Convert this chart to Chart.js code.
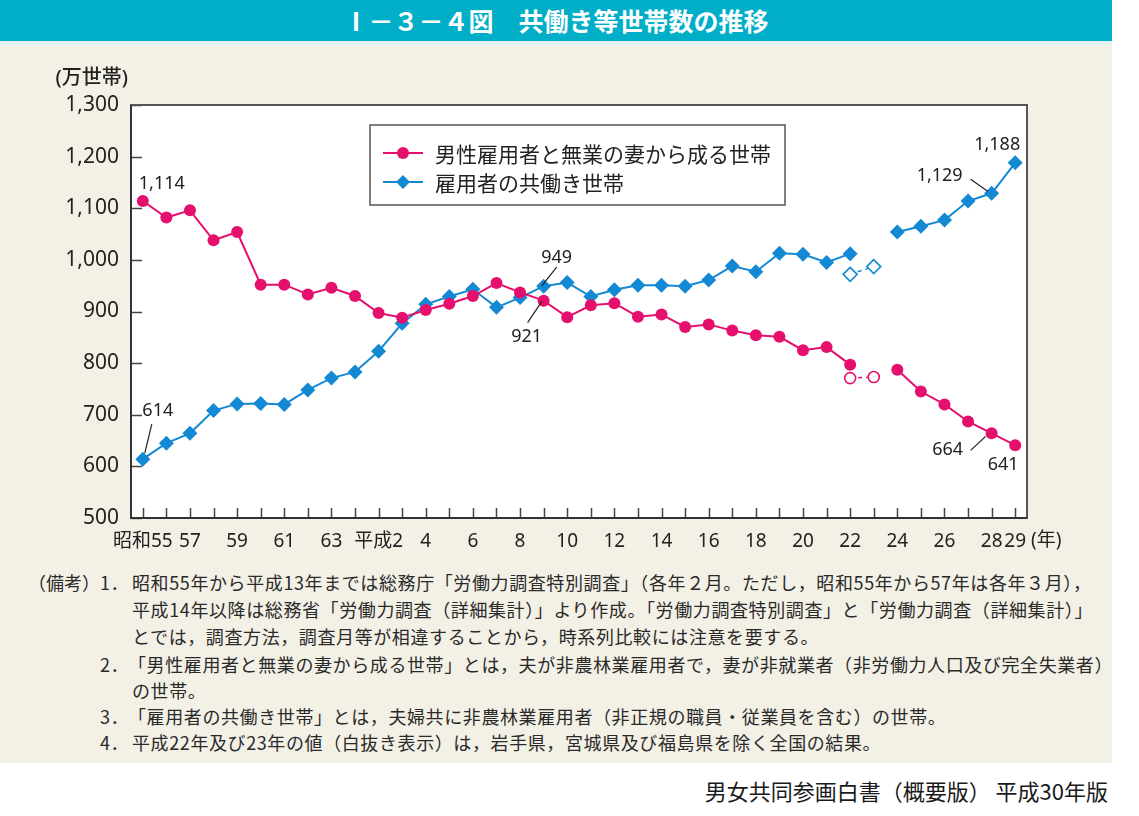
<!DOCTYPE html>
<html lang="ja">
<head>
<meta charset="utf-8">
<script src="https://cdn.jsdelivr.net/npm/chart.js@4.4.1/dist/chart.umd.min.js"></script>
<style>
  html,body{margin:0;padding:0;background:#fff;width:1139px;height:816px;overflow:hidden;font-family:"Noto Sans CJK JP","Noto Sans",sans-serif;}
  #title{position:absolute;left:0;top:0;width:1112px;height:41px;background:#00aec8;color:#fff;font-weight:bold;font-size:25px;line-height:41px;text-align:center;letter-spacing:0px;}
  #strip{position:absolute;left:0;top:41px;width:1112px;height:4px;background:#e3f4f7;}
  #panel{position:absolute;left:0;top:45px;width:1112px;height:718px;background:#f3f0e6;}
  #c{position:absolute;left:0;top:0;}
  .n{position:absolute;font-size:18px;letter-spacing:0.6px;color:#2a2a2a;white-space:nowrap;line-height:20px;}
  #foot{position:absolute;right:31px;top:777px;font-size:22px;color:#1a1a1a;white-space:nowrap;line-height:26px;}
</style>
</head>
<body>
<div id="title">Ⅰ－３－４図　共働き等世帯数の推移</div>
<div id="strip"></div>
<div id="panel"></div>
<div class="n" style="left:28px;top:572px;letter-spacing:0;">（備考）</div>
<div class="n" style="left:100px;top:572px;">1．</div>
<div class="n" style="left:132px;top:572px;">昭和55年から平成13年までは総務庁「労働力調査特別調査」（各年２月。ただし，昭和55年から57年は各年３月），</div>
<div class="n" style="left:132px;top:599px;">平成14年以降は総務省「労働力調査（詳細集計）」より作成。「労働力調査特別調査」と「労働力調査（詳細集計）」</div>
<div class="n" style="left:132px;top:626px;">とでは，調査方法，調査月等が相違することから，時系列比較には注意を要する。</div>
<div class="n" style="left:100px;top:654px;">2．</div>
<div class="n" style="left:128px;top:654px;">「男性雇用者と無業の妻から成る世帯」とは，夫が非農林業雇用者で，妻が非就業者（非労働力人口及び完全失業者）</div>
<div class="n" style="left:132px;top:680px;">の世帯。</div>
<div class="n" style="left:100px;top:706px;">3．</div>
<div class="n" style="left:128px;top:706px;">「雇用者の共働き世帯」とは，夫婦共に非農林業雇用者（非正規の職員・従業員を含む）の世帯。</div>
<div class="n" style="left:100px;top:732px;">4．</div>
<div class="n" style="left:132px;top:732px;">平成22年及び23年の値（白抜き表示）は，岩手県，宮城県及び福島県を除く全国の結果。</div>
<div id="foot">男女共同参画白書（概要版） 平成30年版</div>
<canvas id="c" width="1139" height="816"></canvas>
<script>
// ---- data ----
const categories = ['昭和55','昭和56','昭和57','昭和58','昭和59','昭和60','昭和61','昭和62','昭和63',
  '平成元','平成2','平成3','平成4','平成5','平成6','平成7','平成8','平成9','平成10','平成11','平成12',
  '平成13','平成14','平成15','平成16','平成17','平成18','平成19','平成20','平成21','平成22','平成23',
  '平成24','平成25','平成26','平成27','平成28','平成29'];
const tickLabels = ['昭和55','','57','','59','','61','','63','','平成2','','4','','6','','8','','10','',
  '12','','14','','16','','18','','20','','22','','24','','26','','28','29'];
const yTicks = [500,600,700,800,900,1000,1100,1200,1300];
const seriesNames = ['男性雇用者と無業の妻から成る世帯','雇用者の共働き世帯'];
const housewife = [1114,1082,1096,1038,1054,952,952,933,946,930,897,888,903,915,930,955,937,921,889,912,
  916,890,894,870,875,863,854,851,825,831,797,null,787,745,720,687,664,641];
const dualIncome = [614,645,664,708,721,722,720,748,771,783,823,877,914,929,943,908,927,949,956,929,
  942,951,951,949,961,988,977,1013,1011,995,1012,null,1054,1065,1077,1114,1129,1188];
const housewifeExcl = [null,null,null,null,null,null,null,null,null,null,null,null,null,null,null,null,null,null,null,null,
  null,null,null,null,null,null,null,null,null,null,771,773,null,null,null,null,null,null];
const dualIncomeExcl = [null,null,null,null,null,null,null,null,null,null,null,null,null,null,null,null,null,null,null,null,
  null,null,null,null,null,null,null,null,null,null,972,987,null,null,null,null,null,null];

const RED = '#e5106e', BLUE = '#1489d3', INK = '#222';
const FONT = '"Noto Sans","Noto Sans CJK JP",sans-serif';

// value labels: dataset, index, offset of text centre, optional leader line
const callouts = [
  {ds:0, i:0,  dx:19,  dy:-17},
  {ds:1, i:0,  dx:15,  dy:-48, l:[2,-6,9,-35]},
  {ds:1, i:17, dx:13,  dy:-28, l:[-2,0,13,-19]},
  {ds:0, i:17, dx:-17, dy:36,  l:[-16,22,-2,1]},
  {ds:1, i:37, dx:-18, dy:-18},
  {ds:1, i:36, dx:-52, dy:-17, l:[-21,-14,-4,-2]},
  {ds:0, i:36, dx:-44, dy:17,  l:[-21,17,-6,3]},
  {ds:0, i:37, dx:-12, dy:20}
];

function fmt(v){ return v.toLocaleString('en-US'); }

function diamond(ctx,x,y,r){ ctx.beginPath(); ctx.moveTo(x,y-r); ctx.lineTo(x+r,y); ctx.lineTo(x,y+r); ctx.lineTo(x-r,y); ctx.closePath(); }

const deco = {
  id:'deco',
  beforeDraw(chart){
    const {ctx, chartArea:a} = chart;
    ctx.save(); ctx.fillStyle='#fff'; ctx.fillRect(a.left,a.top,a.right-a.left,a.bottom-a.top); ctx.restore();
  },
  beforeDatasetsDraw(chart){
    const {ctx, chartArea:a, scales:{x,y}} = chart;
    ctx.save();
    ctx.strokeStyle='#444'; ctx.lineWidth=1.5;
    ctx.beginPath();
    yTicks.forEach(v=>{ const py=Math.round(y.getPixelForValue(v))+0.5; ctx.moveTo(a.left,py); ctx.lineTo(a.left+11,py); });
    categories.forEach((c,i)=>{ const px=Math.round(x.getPixelForValue(i))+0.5; ctx.moveTo(px,a.bottom); ctx.lineTo(px,a.bottom-10); });
    ctx.stroke();
    ctx.lineWidth=2; ctx.strokeStyle='#555';
    ctx.strokeRect(a.left,a.top,a.right-a.left,a.bottom-a.top);
    ctx.strokeStyle='#333';
    ctx.beginPath(); ctx.moveTo(a.left,a.top); ctx.lineTo(a.left,a.bottom); ctx.lineTo(a.right,a.bottom); ctx.stroke();
    ctx.restore();
  },
  afterDatasetsDraw(chart){
    const {ctx, chartArea:a, scales:{x,y}} = chart;
    const sets = [housewife, dualIncome];
    ctx.save();
    ctx.fillStyle=INK; ctx.strokeStyle=INK; ctx.lineWidth=1.2;
    ctx.font='18px '+FONT; ctx.textAlign='center'; ctx.textBaseline='middle';
    callouts.forEach(c=>{
      const v=sets[c.ds][c.i];
      const px=x.getPixelForValue(c.i), py=y.getPixelForValue(v);
      ctx.fillText(fmt(v), px+c.dx, py+c.dy);
      if(c.l){ ctx.beginPath(); ctx.moveTo(px+c.l[0],py+c.l[1]); ctx.lineTo(px+c.l[2],py+c.l[3]); ctx.stroke(); }
    });
    ctx.font='500 20px '+FONT; ctx.textAlign='right';
    ctx.fillText('(万世帯)', a.left-3, a.top-27);
    ctx.font='19px '+FONT; ctx.textAlign='left';
    ctx.fillText('(年)', a.right+4, a.bottom+23);
    // legend
    const lx=370, ly=125, lw=415, lh=80;
    ctx.fillStyle='#fff'; ctx.fillRect(lx,ly,lw,lh);
    ctx.strokeStyle='#555'; ctx.lineWidth=1.5; ctx.strokeRect(lx,ly,lw,lh);
    const rows=[{c:RED,y:153,shape:'c'},{c:BLUE,y:182,shape:'d'}];
    rows.forEach((r,k)=>{
      ctx.strokeStyle=r.c; ctx.lineWidth=2;
      ctx.beginPath(); ctx.moveTo(383,r.y); ctx.lineTo(423,r.y); ctx.stroke();
      ctx.fillStyle=r.c;
      if(r.shape==='c'){ ctx.beginPath(); ctx.arc(403,r.y,6,0,Math.PI*2); ctx.fill(); }
      else { diamond(ctx,403,r.y,7); ctx.fill(); }
      ctx.fillStyle=INK; ctx.font='21px "Noto Sans CJK JP",sans-serif'; ctx.textAlign='left';
      ctx.fillText(seriesNames[k], 435, r.y+1);
    });
    ctx.restore();
  }
};

new Chart(document.getElementById('c'), {
  type:'line',
  data:{
    labels: categories,
    datasets:[
      {label:seriesNames[0], data:housewife, borderColor:RED, backgroundColor:RED, borderWidth:2,
       pointStyle:'circle', pointRadius:6, pointBorderWidth:0, spanGaps:false},
      {label:seriesNames[1], data:dualIncome, borderColor:BLUE, backgroundColor:BLUE, borderWidth:2,
       pointStyle:'rectRot', pointRadius:7.5, pointBorderWidth:0, spanGaps:false},
      {label:seriesNames[0]+'(除く3県)', data:housewifeExcl, borderColor:RED, backgroundColor:'#fff', borderWidth:1.5,
       borderDash:[4,4], pointStyle:'circle', pointRadius:5.5, pointBorderWidth:1.6, spanGaps:false},
      {label:seriesNames[1]+'(除く3県)', data:dualIncomeExcl, borderColor:BLUE, backgroundColor:'#fff', borderWidth:1.5,
       borderDash:[4,4], pointStyle:'rectRot', pointRadius:7, pointBorderWidth:1.6, spanGaps:false}
    ]
  },
  options:{
    responsive:false, animation:false, devicePixelRatio:1,
    layout:{padding:{left:0, top:105, right:112, bottom:258}},
    plugins:{legend:{display:false}, tooltip:{enabled:false}},
    elements:{line:{tension:0}},
    scales:{
      x:{type:'category', offset:true,
         grid:{display:false, drawTicks:false}, border:{display:false},
         afterFit(s){ s.height=40; },
         ticks:{autoSkip:false, maxRotation:0, minRotation:0, padding:12, color:INK,
                font:{family:FONT, size:19},
                callback:(v,i)=>tickLabels[i]}},
      y:{min:500, max:1300,
         grid:{display:false, drawTicks:false}, border:{display:false},
         afterFit(s){ s.width=131; },
         afterBuildTicks(s){ s.ticks = yTicks.map(v=>({value:v})); },
         ticks:{padding:12, color:INK, font:{family:FONT, size:21},
                callback:v=>fmt(v)}}
    }
  },
  plugins:[deco]
});
</script>
</body>
</html>
